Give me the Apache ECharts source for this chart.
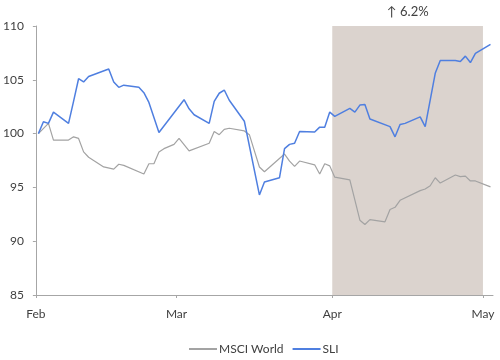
<!DOCTYPE html>
<html>
<head>
<meta charset="utf-8">
<script src="https://cdn.jsdelivr.net/npm/echarts@6/dist/echarts.min.js"></script>
<style>html,body{margin:0;padding:0;background:#fff;}#c{width:500px;height:360px;}</style>
</head>
<body>
<div id="c"></div>
<script>
// ---- data ----
const baseDate = '2011-02-01';
const monthStarts = ['2011-02-01', '2011-03-01', '2011-04-01', '2011-05-01'];
const monthLabels = ['Feb', 'Mar', 'Apr', 'May'];
const shadeFrom = '2011-04-01';
const shadeTo = '2011-05-01';
const annotation = '\u2191 6.2%';
const yTicks = [85, 90, 95, 100, 105, 110];

const msciDates = ['2011-02-01','2011-02-03','2011-02-04','2011-02-07','2011-02-08','2011-02-09','2011-02-10','2011-02-11','2011-02-14','2011-02-16','2011-02-17','2011-02-18','2011-02-22','2011-02-23','2011-02-24','2011-02-25','2011-02-26','2011-02-28','2011-03-01','2011-03-03','2011-03-07','2011-03-08','2011-03-09','2011-03-10','2011-03-11','2011-03-14','2011-03-15','2011-03-16','2011-03-17','2011-03-18','2011-03-22','2011-03-23','2011-03-24','2011-03-25','2011-03-28','2011-03-29','2011-03-30','2011-03-31','2011-04-01','2011-04-04','2011-04-06','2011-04-07','2011-04-08','2011-04-11','2011-04-12','2011-04-13','2011-04-14','2011-04-18','2011-04-19','2011-04-20','2011-04-21','2011-04-22','2011-04-25','2011-04-26','2011-04-27','2011-04-28','2011-04-29','2011-05-02'];
const msciValues = [100.0,100.95,99.4,99.4,99.7,99.55,98.3,97.8,96.9,96.7,97.15,97.05,96.25,97.2,97.2,98.3,98.6,99.0,99.55,98.4,99.1,100.2,99.9,100.4,100.5,100.25,99.9,98.4,96.9,96.45,98.1,97.45,96.95,97.45,97.1,96.25,97.2,97.0,95.95,95.7,91.95,91.55,92.0,91.8,92.95,93.15,93.8,94.7,94.85,95.15,95.9,95.4,96.15,96.0,96.05,95.6,95.6,95.05];

const sliDates = ['2011-02-01','2011-02-02','2011-02-03','2011-02-04','2011-02-07','2011-02-08','2011-02-09','2011-02-10','2011-02-11','2011-02-15','2011-02-16','2011-02-17','2011-02-18','2011-02-21','2011-02-22','2011-02-23','2011-02-25','2011-03-02','2011-03-03','2011-03-04','2011-03-07','2011-03-08','2011-03-09','2011-03-10','2011-03-11','2011-03-14','2011-03-17','2011-03-18','2011-03-21','2011-03-22','2011-03-23','2011-03-24','2011-03-25','2011-03-28','2011-03-29','2011-03-30','2011-03-31','2011-04-01','2011-04-04','2011-04-05','2011-04-06','2011-04-07','2011-04-08','2011-04-12','2011-04-13','2011-04-14','2011-04-15','2011-04-18','2011-04-19','2011-04-21','2011-04-22','2011-04-25','2011-04-26','2011-04-27','2011-04-28','2011-04-29','2011-05-02'];
const sliValues = [100.0,101.1,100.95,102.0,100.95,103.0,105.1,104.8,105.3,106.0,104.8,104.3,104.5,104.3,103.8,102.9,100.1,103.15,102.3,101.75,100.95,103.0,103.75,104.05,103.1,101.15,94.3,95.5,95.9,98.6,99.0,99.1,100.2,100.15,100.6,100.6,102.0,101.6,102.35,102.0,102.65,102.7,101.35,100.65,99.7,100.85,100.95,101.55,100.65,105.6,106.8,106.8,106.7,107.2,106.6,107.45,108.3];

// ---- helpers ----
function dayIndex(s) {
  const p = s.split('-').map(Number), b = baseDate.split('-').map(Number);
  return (Date.UTC(p[0], p[1] - 1, p[2]) - Date.UTC(b[0], b[1] - 1, b[2])) / 86400000;
}
// each day occupies a slot; points sit at the middle of their day
function pts(dates, vals) { return dates.map((d, i) => [dayIndex(d) + 0.5, vals[i]]); }
const tickPos = monthStarts.map(dayIndex);

const FONT = 'Lato, "Open Sans", sans-serif';
const TXT = '#404040';
const AX = '#a6a6a6';

const chart = echarts.init(document.getElementById('c'), null, { renderer: 'canvas' });
chart.setOption({
  animation: false,
  backgroundColor: '#fff',
  textStyle: { fontFamily: FONT },
  title: {
    text: annotation, left: 382, top: 0,
    textStyle: { fontFamily: FONT, fontSize: 13, fontWeight: 'normal', color: TXT }
  },
  grid: { left: 34, right: 7, top: 26, bottom: 65, containLabel: false },
  legend: {
    left: 189, top: 343, padding: 0, itemGap: 9, itemWidth: 28, itemHeight: 2,
    icon: 'rect',
    textStyle: { fontFamily: FONT, fontSize: 12, color: TXT, padding: [0, 0, 0, -3] },
    data: ['MSCI World', 'SLI']
  },
  xAxis: {
    type: 'value', min: 0, max: 91,
    axisLine: { show: true, lineStyle: { color: AX, width: 1 } },
    axisTick: { show: true, length: 3, customValues: tickPos, lineStyle: { color: AX } },
    axisLabel: {
      customValues: tickPos, margin: 13, fontFamily: FONT, fontSize: 12, color: TXT,
      formatter: v => monthLabels[tickPos.indexOf(v)] || ''
    },
    splitLine: { show: false }
  },
  yAxis: {
    type: 'value', min: yTicks[0], max: yTicks[yTicks.length - 1], interval: 5,
    axisLine: { show: true, lineStyle: { color: AX, width: 1 } },
    axisTick: { show: true, length: 3, lineStyle: { color: AX } },
    axisLabel: { margin: 12, fontFamily: FONT, fontSize: 12, color: TXT },
    splitLine: { show: false }
  },
  series: [
    {
      name: 'shade', type: 'line', data: [], z: 1, silent: true,
      markArea: {
        silent: true,
        itemStyle: { color: '#dbd3ce' },
        data: [[{ xAxis: dayIndex(shadeFrom) }, { xAxis: dayIndex(shadeTo) }]]
      }
    },
    {
      name: 'MSCI World', type: 'line', data: pts(msciDates, msciValues), z: 3,
      symbol: 'none', color: '#a3a3a3',
      lineStyle: { color: '#a3a3a3', width: 1.2 }
    },
    {
      name: 'SLI', type: 'line', data: pts(sliDates, sliValues), z: 4,
      symbol: 'none', color: '#4f7fe0',
      lineStyle: { color: '#4f7fe0', width: 1.5 }
    }
  ]
});
</script>
</body>
</html>
